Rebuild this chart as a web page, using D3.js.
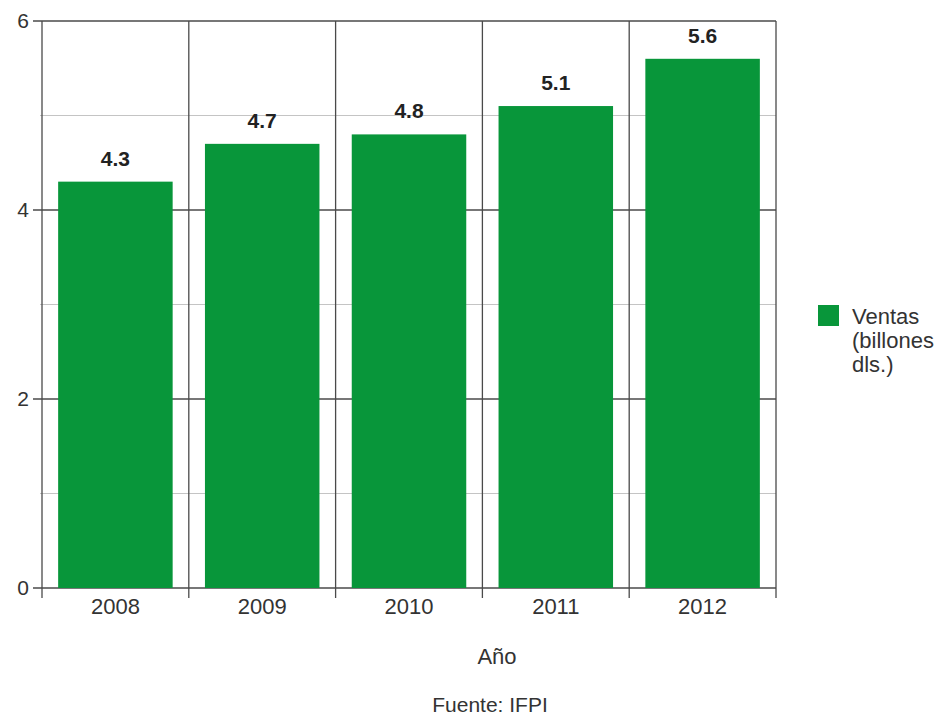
<!DOCTYPE html>
<html><head><meta charset="utf-8">
<script src="https://cdn.jsdelivr.net/npm/d3@7"></script>
<style>body{margin:0;background:#fff}svg{font-family:"Liberation Sans",Arial,sans-serif}</style>
</head><body><svg id="c" width="948" height="719"></svg>
<script>
const years = ["2008","2009","2010","2011","2012"];
const ventas = [4.3, 4.7, 4.8, 5.1, 5.6];
const yTicks = [0, 2, 4, 6];
const yMinor = [1, 3, 5];
const seriesName = ["Ventas", "(billones", "dls.)"];
const xTitle = "Año";
const source = "Fuente: IFPI";

const svg = d3.select("#c");
const L = 42, R = 776, T = 21, B = 588;
const x = d3.scaleBand().domain(years).range([L, R]).paddingInner(0.22).paddingOuter(0.11);
const xb = d3.scaleBand().domain(years).range([L, R]);
const y = d3.scaleLinear().domain([0, 6]).range([B, T]);
const green = "#08963a", dark = "#4a4a4a", txt = "#333";

// minor gridlines
svg.append("g").selectAll("line").data(yMinor).join("line")
  .attr("x1", L - 2).attr("x2", R).attr("y1", d => y(d)).attr("y2", d => y(d))
  .attr("stroke", "#c4c4c4").attr("stroke-width", 1.2);
// major gridlines
svg.append("g").selectAll("line").data(yTicks).join("line")
  .attr("x1", L - 9).attr("x2", R).attr("y1", d => y(d)).attr("y2", d => y(d))
  .attr("stroke", dark).attr("stroke-width", 1.3);
// vertical gridlines at band boundaries
const bounds = years.map(d => xb(d)).concat([R]);
svg.append("g").selectAll("line").data(bounds).join("line")
  .attr("x1", d => d).attr("x2", d => d).attr("y1", T).attr("y2", B + 10)
  .attr("stroke", dark).attr("stroke-width", 1.3);

// bars
svg.append("g").selectAll("rect").data(years).join("rect")
  .attr("x", d => x(d)).attr("width", x.bandwidth())
  .attr("y", (d, i) => y(ventas[i])).attr("height", (d, i) => B - y(ventas[i]))
  .attr("fill", green);

// value labels
svg.append("g").selectAll("text").data(years).join("text")
  .attr("x", d => x(d) + x.bandwidth() / 2).attr("y", (d, i) => y(ventas[i]) - 16)
  .attr("text-anchor", "middle").attr("font-size", 21).attr("font-weight", "bold").attr("fill", "#222")
  .text((d, i) => ventas[i].toFixed(1));

// y tick labels
svg.append("g").selectAll("text").data(yTicks).join("text")
  .attr("x", L - 13).attr("y", d => y(d) + 7).attr("text-anchor", "end")
  .attr("font-size", 21).attr("fill", txt).text(d => d);

// x tick labels
svg.append("g").selectAll("text").data(years).join("text")
  .attr("x", d => xb(d) + xb.bandwidth() / 2).attr("y", B + 26)
  .attr("text-anchor", "middle").attr("font-size", 22).attr("fill", txt).text(d => d);

svg.append("text").attr("x", 497).attr("y", 664).attr("text-anchor", "middle")
  .attr("font-size", 22).attr("fill", txt).text(xTitle);
svg.append("text").attr("x", 490).attr("y", 712).attr("text-anchor", "middle")
  .attr("font-size", 21).attr("fill", txt).text(source);

// legend
svg.append("rect").attr("x", 818).attr("y", 305).attr("width", 21).attr("height", 21).attr("fill", green);
svg.append("g").selectAll("text").data(seriesName).join("text")
  .attr("x", 852).attr("y", (d, i) => 324 + i * 24)
  .attr("font-size", 22).attr("fill", txt).text(d => d);
</script></body></html>
